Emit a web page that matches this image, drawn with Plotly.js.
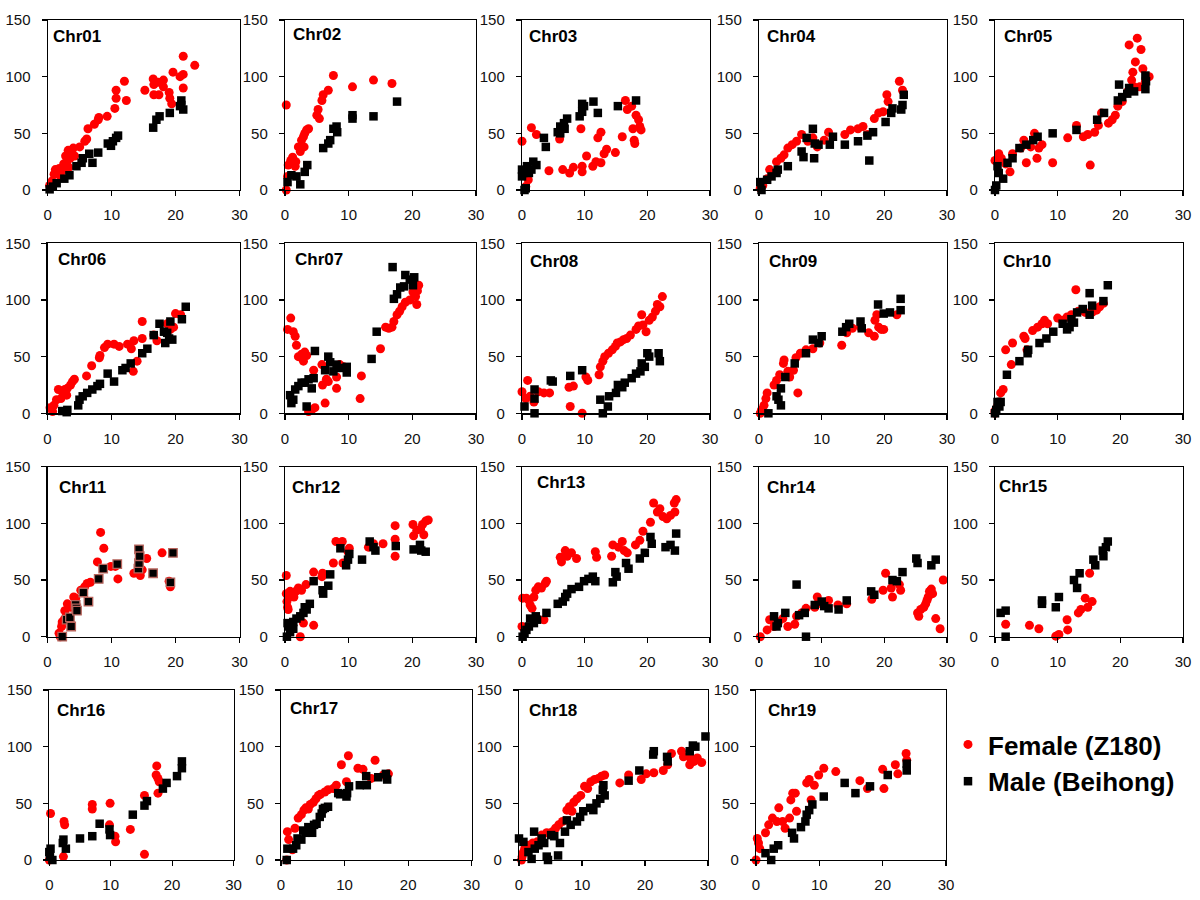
<!DOCTYPE html>
<html>
<head>
<meta charset="utf-8">
<script src="https://cdn.plot.ly/plotly-3.0.1.min.js"></script>
<style>html,body{margin:0;padding:0;background:#fff;}#chart{width:1200px;height:900px;}</style>
</head>
<body>
<div id="chart"></div>
<script>
// ---------- DATA ([x, y] pairs) ----------
const panelNames = ["Chr01","Chr02","Chr03","Chr04","Chr05","Chr06","Chr07","Chr08","Chr09","Chr10",
                    "Chr11","Chr12","Chr13","Chr14","Chr15","Chr16","Chr17","Chr18","Chr19"];
const seriesNames = ["Female (Z180)", "Male (Beihong)"];
const xTicks = [0, 10, 20, 30];
const yTicks = [0, 50, 100, 150];

const chr01_female = [[0.3,4],[0.7,8],[1.0,14],[1.2,18],[1.5,15],[1.8,19],[2.0,12],[2.3,17],[2.5,23],[2.6,22],[2.8,30],[3.0,25],[3.2,35],[3.3,20],[3.5,28],[3.7,33],[4.0,37],[4.2,30],[5.0,38],[5.8,43],[6.1,45],[6.3,54],[7.3,58],[7.9,62],[8.0,64],[9.3,65],[10.5,72],[10.7,81],[10.7,88],[12.0,96],[12.3,79],[15.2,88],[16.5,98],[16.6,93],[16.6,84],[17.3,95],[17.4,84],[18.1,97],[18.1,91],[19.0,86],[19.1,81],[19.4,76],[19.6,104],[20.7,100],[21.2,118],[21.2,102],[21.2,90],[23.0,110]];
const chr01_male = [[0.3,0.6],[0.8,3],[1.4,6],[2.6,10],[3.4,13],[4.5,21],[5.3,24],[5.5,28],[6.5,32],[7.0,24],[7.9,33],[9.4,41],[9.9,39],[10.2,43],[10.7,46],[11.0,48],[16.5,55],[17.0,62],[17.5,65],[19.1,68],[20.7,74],[20.9,79],[20.9,75],[21.2,71]];
const chr02_female = [[0.2,0],[0.2,75],[0.4,12],[0.5,22],[0.9,26],[1.2,29],[1.6,21],[1.7,25],[2.1,38],[2.4,34],[2.6,44],[2.9,47],[3.0,38],[3.1,50],[3.4,53],[3.7,54],[5.0,66],[5.2,71],[5.4,63],[5.8,79],[6.0,84],[6.8,88],[7.6,101],[10.6,91],[13.9,97],[16.8,94]];
const chr02_male = [[0.4,7],[1.0,13],[1.8,12],[2.4,5],[3.1,16],[3.5,22],[6.0,37],[6.8,41],[7.1,44],[7.6,54],[8.1,56],[8.2,51],[10.6,66],[10.6,63],[13.9,65],[17.6,78]];
const chr03_female = [[0.0,43],[0.6,3],[1.0,9],[1.5,55],[2.3,49],[4.3,17],[6.0,45],[6.5,18],[7.6,15],[8.2,20],[9.4,54],[9.6,16],[9.6,21],[10.3,30],[11.3,21],[11.8,25],[12.1,46],[12.6,51],[12.6,24],[13.1,32],[13.5,36],[14.9,33],[16.0,47],[16.5,79],[16.8,71],[17.5,74],[17.7,54],[17.9,44],[18.0,41],[18.2,66],[18.6,62],[18.8,56],[19.0,53]];
const chr03_male = [[0.0,18],[0.0,12],[0.2,15],[0.4,0],[0.6,1.5],[0.8,21],[1.1,15],[1.5,18],[1.8,25],[2.3,22],[3.5,46],[3.8,38],[5.7,51],[6.1,56],[6.1,50],[6.7,59],[6.8,54],[7.2,63],[9.2,65],[9.6,69],[9.6,76],[9.9,74],[11.4,78],[12.1,68],[15.3,74],[18.2,79]];
const chr04_female = [[0.2,1.5],[0.6,4],[1.3,10],[1.7,18],[2.8,25],[3.5,28],[4.0,31],[4.6,37],[5.3,40],[6.0,43],[6.8,49],[7.8,43],[8.6,46],[9.3,38],[10.4,44],[11.1,51],[13.7,49],[14.6,53],[15.8,54],[16.6,56],[17.3,49],[18.4,63],[19.1,68],[19.8,69],[20.4,84],[20.6,78],[22.4,96],[22.9,88]];
const chr04_male = [[0.2,7],[0.4,0],[1.3,9],[2.0,12],[2.8,15],[3.0,18],[4.6,21],[6.8,34],[7.1,29],[7.6,46],[8.6,54],[8.8,28],[8.9,41],[9.5,40],[11.3,40],[11.8,47],[13.7,40],[15.8,43],[17.3,48],[17.6,26],[18.2,51],[20.2,60],[21.1,68],[21.3,72],[22.7,71],[22.9,75],[23.1,84]];
const chr05_female = [[0,26],[0.6,32],[1.0,28],[1.7,23],[2.4,16],[2.8,32],[4.1,37],[4.6,44],[5.0,24],[5.7,38],[6.3,50],[6.7,28],[7.0,37],[7.5,40],[9.2,24],[11.6,46],[13.0,57],[14.1,47],[14.8,49],[15.2,22],[15.9,51],[16.5,57],[17.0,68],[18.1,59],[18.7,62],[19.2,66],[19.6,74],[20.3,78],[21.2,87],[21.4,128],[21.8,97],[22.0,104],[22.2,91],[22.4,113],[22.7,134],[23.1,91],[23.3,124],[23.6,107],[24.0,96],[24.6,100]];
const chr05_male = [[0,0],[0.2,4],[0.4,21],[0.6,15],[1.3,10],[2.0,24],[2.8,28],[3.9,37],[5.0,40],[6.1,44],[6.8,47],[9.2,50],[13.0,53],[16.3,62],[17.4,68],[19.6,79],[19.8,93],[20.3,82],[21.1,85],[21.4,90],[22.2,87],[24.0,101],[24.1,96],[24.0,89]];
const chr06_female = [[0.4,5],[0.8,1.5],[1.0,7],[1.4,12],[1.7,21],[2.1,13],[2.3,19],[2.7,21],[3.0,16],[3.1,22],[3.6,25],[3.9,28],[4.2,30],[6.1,33],[6.9,42],[8.1,49],[8.2,51],[8.9,58],[9.4,61],[10.4,61],[11.2,59],[12.5,61],[13.1,57],[13.5,64],[13.4,37],[14.0,46],[14.8,81],[14.8,66],[16.6,69],[17.1,64],[18.7,79],[19.2,74],[19.7,76],[20.0,88],[20.8,87]];
const chr06_male = [[2.3,2],[3.0,1],[3.1,3],[4.8,7],[5.0,12],[5.5,15],[6.2,18],[7.0,21],[7.8,24],[8.2,26],[9.4,35],[10.4,28],[11.7,38],[12.2,40],[13.0,44],[14.8,53],[15.6,57],[16.6,69],[17.5,79],[18.2,72],[18.4,62],[18.7,71],[19.0,66],[19.2,81],[19.5,65],[21.0,83],[21.6,94]];
const chr07_female = [[0.4,74],[0.9,84],[1.3,72],[1.6,68],[1.8,60],[2.1,50],[2.6,52],[2.9,46],[3.1,54],[3.4,51],[3.7,1.5],[4.2,3],[4.5,38],[4.7,5],[5.8,43],[5.9,25],[6.3,9],[6.5,30],[6.8,28],[8.1,22],[8.1,32],[8.6,43],[9.2,41],[11.8,13],[12.0,33],[15.0,57],[15.8,76],[16.3,75],[16.8,76],[17.1,81],[17.6,87],[18.0,90],[18.4,94],[18.9,98],[19.6,100],[20.1,107],[20.5,103],[20.7,96],[20.8,108],[21.0,113]];
const chr07_male = [[0.8,16],[1.0,9],[1.3,12],[1.6,21],[2.1,24],[2.6,27],[3.1,27],[3.4,6],[3.7,30],[4.2,22],[4.5,31],[4.7,55],[6.3,38],[6.8,50],[7.1,45],[7.6,37],[8.1,43],[8.6,40],[9.7,41],[9.7,36],[13.6,48],[14.4,72],[16.9,129],[17.1,101],[17.6,105],[18.1,111],[18.7,112],[18.9,122],[19.6,118],[20.1,113],[20.3,120]];
const chr08_female = [[0,19],[0.6,13],[0.9,29],[1.3,15],[1.9,10],[2.6,19],[3.5,18],[4.4,18],[7.5,23],[7.7,6],[8.2,24],[9.6,0],[10.2,32],[10.5,29],[12.3,34],[12.5,41],[12.9,46],[13.2,50],[13.8,53],[14.4,56],[14.9,59],[15.2,62],[15.7,63],[16.2,65],[16.7,66],[17.3,69],[18.2,74],[18.6,77],[19.1,87],[19.3,78],[19.8,72],[20.3,82],[20.8,85],[21.3,90],[21.6,96],[22.0,94],[22.4,103]];
const chr08_male = [[0.4,6],[2.0,13],[2.0,21],[2.0,0],[4.6,29],[4.9,28],[7.7,33],[9.6,38],[12.5,12],[12.9,0],[13.7,6],[13.9,15],[15.0,18],[15.3,25],[16.0,23],[16.4,27],[17.5,31],[18.2,35],[18.9,37],[19.1,44],[19.6,41],[20.0,53],[20.3,50],[21.8,53],[22.0,46]];
const chr09_female = [[0.2,0],[0.4,3],[0.8,7],[1.1,13],[1.3,18],[2.4,25],[2.8,29],[3.3,34],[3.9,44],[4.0,47],[4.6,37],[4.9,32],[5.5,38],[5.9,49],[6.2,18],[6.6,53],[7.5,56],[8.6,57],[9.7,62],[13.2,60],[14.0,71],[14.9,75],[16.2,76],[17.5,71],[18.4,68],[18.5,82],[18.8,87],[19.1,76],[19.5,74],[19.9,74],[22.0,87]];
const chr09_male = [[1.5,0],[2.8,15],[3.1,12],[3.5,7],[3.5,22],[4.2,32],[5.7,44],[7.5,53],[8.6,65],[9.5,62],[10.0,68],[13.3,72],[13.9,76],[14.4,79],[16.2,81],[16.4,75],[19.0,96],[19.9,88],[20.9,89],[22.6,101],[22.6,91]];
const chr10_female = [[0,0],[0,2],[0.4,6],[0.7,10],[0.9,18],[1.3,21],[1.7,56],[2.6,43],[2.8,62],[4.6,68],[4.8,66],[5.1,56],[6.0,73],[6.8,76],[7.5,79],[7.9,82],[8.4,79],[10.0,84],[10.7,82],[11.5,85],[12.2,87],[12.9,109],[13.3,90],[14.4,89],[15.5,89],[16.2,91],[16.7,94],[17.3,97]];
const chr10_male = [[0,0],[0.2,3],[0.4,10],[0.7,6],[0.9,10],[1.9,34],[3.9,46],[5.2,53],[5.3,56],[7.1,62],[8.2,66],[9.3,72],[10.8,79],[11.5,74],[11.9,76],[12.2,83],[12.6,80],[13.1,89],[14.0,92],[15.1,106],[15.1,87],[15.5,95],[17.3,99],[18.0,113]];
const chr11_female = [[1.8,3],[2.0,0],[2.2,9],[2.3,13],[2.6,15],[2.7,23],[2.9,18],[3.1,29],[3.6,26],[4.1,35],[4.4,34],[5.2,41],[5.8,44],[6.2,47],[6.7,48],[7.8,66],[8.3,92],[8.8,78],[9.9,62],[10.6,62],[11.0,51],[13.5,56],[14.5,54],[14.8,59],[15.5,69],[17.9,74],[19.0,49],[19.2,44]];
const chr11_male = [[2.3,0],[3.0,15],[3.5,17],[3.7,9],[4.4,28],[4.5,25],[4.6,23],[5.6,39],[6.4,31],[8.0,51],[8.7,60],[10.9,64],[14.2,60],[14.3,65],[14.3,77],[14.4,71],[16.5,56],[19.2,48],[19.6,74]];
const chr12_female = [[0.2,54],[0.2,38],[0.3,31],[0.4,26],[0.5,24],[0.5,35],[0.8,40],[1.0,38],[1.4,35],[1.7,40],[2.1,43],[2.4,0],[2.6,41],[2.9,12],[3.3,46],[4.5,10],[4.5,57],[5.8,53],[5.9,56],[7.6,65],[8.0,84],[9.0,84],[9.1,65],[9.9,75],[10.1,78],[13.1,79],[13.9,82],[15.4,82],[17.3,98],[17.3,86],[17.3,71],[20.1,99],[20.2,89],[20.7,94],[21.3,95],[21.6,99],[21.8,90],[22.1,102],[22.5,103]];
const chr12_male = [[0.3,0],[0.4,12],[0.5,9],[0.8,4],[1.3,7],[1.3,13],[1.8,16],[2.4,18],[2.9,21],[3.1,26],[3.4,24],[3.9,29],[4.5,49],[5.9,41],[6.0,38],[6.8,45],[7.1,55],[8.7,78],[9.6,63],[9.9,68],[10.1,73],[12.1,68],[13.3,84],[13.9,79],[14.2,76],[17.4,80],[20.2,77],[21.2,81],[21.4,76],[22.1,75]];
const chr13_female = [[0,9],[0.1,34],[0.7,34],[1.1,32],[1.3,28],[1.6,25],[1.9,35],[2.2,41],[2.6,44],[3.1,43],[3.5,15],[3.7,47],[3.9,49],[6.1,70],[6.3,66],[6.9,76],[7.2,71],[7.9,74],[8.7,69],[11.7,75],[11.9,70],[14.3,71],[14.5,81],[15.4,79],[16.0,84],[16.3,76],[16.8,74],[18.1,81],[18.8,85],[19.3,93],[20.5,101],[21.0,118],[21.6,110],[22.0,113],[22.5,106],[23.1,104],[23.7,107],[24.3,118],[24.4,110],[24.6,121]];
const chr13_male = [[0.1,0],[0.4,3],[0.7,6],[1.1,9],[1.3,16],[1.9,12],[2.2,18],[2.4,15],[3.9,21],[5.7,29],[6.5,31],[6.9,35],[7.2,38],[7.9,42],[9.1,44],[9.9,49],[10.6,51],[11.3,53],[11.7,49],[14.5,48],[14.9,57],[15.1,53],[16.6,65],[17.0,60],[18.8,69],[19.6,74],[20.5,88],[20.7,82],[22.9,79],[23.7,81],[24.4,76],[24.6,91]];
const chr14_female = [[0.2,0],[1.3,6],[1.7,15],[2.4,9],[3.1,13],[3.8,16],[4.6,9],[5.7,11],[6.0,18],[6.8,21],[7.5,25],[8.9,26],[9.3,35],[10.0,29],[11.1,32],[12.6,28],[14.0,29],[18.0,33],[19.8,41],[20.2,56],[21.1,43],[21.3,35],[22.4,46],[22.6,41],[25.3,21],[25.5,18],[25.8,24],[26.3,26],[26.6,29],[26.8,32],[27.0,35],[27.2,40],[27.5,42],[27.7,38],[28.2,16],[28.9,7],[29.4,50]];
const chr14_male = [[2.4,18],[2.8,9],[3.0,12],[4.2,21],[6.0,46],[6.4,19],[7.3,21],[7.5,0],[8.9,28],[10.0,31],[10.4,27],[11.1,25],[12.7,24],[14.0,32],[17.9,40],[18.4,37],[21.3,50],[22.0,49],[22.9,57],[25.1,69],[25.3,65],[27.5,63],[28.2,68]];
const chr15_female = [[1.7,11],[5.5,10],[7.0,7],[9.7,0.5],[10.2,2],[11.5,15],[11.6,6],[13.3,21],[13.7,24],[14.4,34],[14.8,26],[15.1,56],[15.5,31]];
const chr15_male = [[0.9,21],[1.7,23],[1.7,0],[7.5,29],[7.5,32],[9.7,26],[10.2,35],[12.6,50],[13.1,43],[13.5,56],[15.7,68],[16.0,63],[17.2,76],[17.3,71],[17.7,79],[18.0,84]];
const chr16_female = [[0,0],[0.2,41],[2.3,3],[2.4,34],[2.5,31],[7.0,49],[7.0,45],[9.9,50],[9.8,31],[10.7,21],[10.8,16],[13.2,27],[15.5,57],[15.5,5],[17.4,75],[17.5,83],[17.7,72],[17.9,69],[17.7,59]];
const chr16_male = [[0,7],[0.1,3],[0.2,10],[0.5,0],[2.2,15],[2.3,18],[2.7,10],[5.0,19],[7.0,21],[8.2,32],[9.8,27],[9.9,22],[13.6,40],[15.5,48],[15.9,52],[18.5,63],[19.1,68],[20.8,74],[21.6,87],[21.6,81]];
const chr17_female = [[0.9,0],[1.0,25],[1.2,18],[1.8,9],[2.2,28],[2.7,37],[3.2,40],[3.6,44],[3.9,46],[4.3,45],[4.6,49],[5.1,51],[5.5,54],[5.9,57],[6.2,58],[6.9,60],[7.4,62],[8.2,63],[8.7,66],[9.5,84],[10.3,69],[10.6,92],[12.1,81],[12.9,80],[14.2,72],[14.8,88],[16.1,75],[16.9,76]];
const chr17_male = [[0.9,0],[1.0,10],[1.9,10],[2.4,13],[2.6,19],[3.2,18],[3.5,26],[3.9,24],[4.3,29],[4.8,27],[4.9,24],[5.2,31],[5.6,32],[6.1,38],[6.4,41],[6.6,45],[6.9,46],[7.4,47],[9.0,59],[9.3,58],[10.3,56],[10.4,59],[10.7,65],[12.4,66],[13.5,66],[13.4,74],[15.3,73],[16.5,76],[16.7,71]];
const chr18_female = [[0.4,0],[0.5,3],[0.7,7],[0.9,10],[1.5,13],[2.2,15],[2.9,16],[3.6,22],[4.4,24],[5.3,25],[5.8,28],[6.3,31],[6.9,34],[7.6,44],[8.0,47],[8.4,43],[8.7,51],[9.2,54],[9.8,57],[10.4,65],[10.9,63],[11.4,69],[12.0,71],[12.6,72],[13.1,74],[13.6,75],[16.0,68],[17.4,75],[19.4,71],[20.2,76],[21.4,77],[22.9,79],[23.6,84],[24.2,94],[25.8,96],[26.1,91],[27.1,84],[27.2,90],[27.8,87],[28.3,90],[29.0,86]];
const chr18_male = [[0,19],[0.7,16],[1.5,7],[2.0,1],[2.4,25],[2.5,10],[3.1,13],[3.6,19],[4.0,15],[4.4,3],[4.6,0],[5.1,22],[5.6,21],[6.2,4],[6.5,15],[7.3,25],[7.6,35],[8.2,31],[9.2,34],[9.7,38],[10.2,43],[11.3,46],[11.8,44],[12.3,50],[12.9,54],[13.3,62],[13.4,66],[13.6,57],[17.4,70],[19.1,79],[21.3,93],[21.4,96],[23.5,91],[23.6,87],[27.1,96],[27.6,101],[28.0,100],[29.6,109]];
const chr19_female = [[0,0],[0.2,19],[0.4,15],[0.6,10],[1.5,24],[2.0,31],[2.6,37],[3.3,34],[3.6,46],[4.2,34],[4.6,28],[5.3,37],[5.5,53],[5.8,59],[6.2,59],[6.4,43],[8.0,68],[8.4,71],[8.7,53],[9.2,66],[9.9,75],[10.7,81],[12.6,78],[16.4,70],[17.6,63],[20.0,80],[20.2,63],[22.0,84],[22.4,76],[23.7,94],[23.8,88]];
const chr19_male = [[1.5,6],[2.4,0],[2.8,10],[3.5,13],[5.7,24],[6.0,19],[7.1,29],[7.8,34],[8.0,40],[8.4,44],[8.9,49],[10.7,56],[14.0,68],[15.7,59],[18.0,65],[20.8,75],[23.8,85],[23.8,79]];

const femaleData = [chr01_female,chr02_female,chr03_female,chr04_female,chr05_female,chr06_female,chr07_female,chr08_female,chr09_female,chr10_female,chr11_female,chr12_female,chr13_female,chr14_female,chr15_female,chr16_female,chr17_female,chr18_female,chr19_female];
const maleData = [chr01_male,chr02_male,chr03_male,chr04_male,chr05_male,chr06_male,chr07_male,chr08_male,chr09_male,chr10_male,chr11_male,chr12_male,chr13_male,chr14_male,chr15_male,chr16_male,chr17_male,chr18_male,chr19_male];

// ---------- LAYOUT GEOMETRY (pixels) ----------
const W = 1200, H = 900;
const rowsPx = [[20,190],[243.3,413.3],[466.7,636.7],[690,860]];
const colsPx = [
  [[47.7,239.5],[285,476],[522,710],[759,947],[995,1183]],
  [[47.5,239.5],[285,476],[522,710],[759,947],[995,1183]],
  [[47.5,239.5],[285,476],[522,710],[759,947],[995,1183]],
  [[49.3,233.5],[281,471.7],[519,708],[756,946]]
];
const labelOffset = [3,6,5,6,7, 8,8,6,8,6, 9,5,13,6,2, 6,7,8,10];
const labelDy = [16,14,17,17,17, 16,16,18,18,18, 21,21,16,21,20, 20,18,20,20];

const fontFam = "Liberation Sans, Arial, sans-serif";
const traces = [];
const layout = {
  width: W, height: H,
  margin: {l:0, r:0, t:0, b:0},
  paper_bgcolor: "#fff", plot_bgcolor: "#fff",
  showlegend: true,
  legend: {
    x: 948/W, y: 1 - 721/H, xanchor: "left", yanchor: "top",
    font: {family: fontFam, size: 26, color: "#000", weight: "bold"},
    bgcolor: "rgba(0,0,0,0)", tracegroupgap: 0, itemclick: false
  },
  annotations: [],
  font: {family: fontFam}
};

panelNames.forEach((name, i) => {
  const r = Math.floor(i / 5), c = i % 5;
  const [x0, x1] = colsPx[r][c];
  const [yt, yb] = rowsPx[r];
  const xa = i === 0 ? "xaxis" : "xaxis" + (i + 1);
  const ya = i === 0 ? "yaxis" : "yaxis" + (i + 1);
  const xid = i === 0 ? "x" : "x" + (i + 1);
  const yid = i === 0 ? "y" : "y" + (i + 1);
  const common = {
    showgrid: false, zeroline: false, showline: true, mirror: true,
    linecolor: "#000", linewidth: 1.2, ticks: "outside", ticklen: 5,
    tickcolor: "#000", tickwidth: 1.2,
    tickfont: {family: fontFam, size: 15, color: "#111"},
    fixedrange: true
  };
  layout[xa] = Object.assign({}, common, {
    domain: [x0 / W, x1 / W], range: [0, 30], tickmode: "array",
    tickvals: xTicks, ticktext: xTicks.map(String), anchor: yid,
    ticklabelstandoff: 6
  });
  layout[ya] = Object.assign({}, common, {
    domain: [1 - yb / H, 1 - yt / H], range: [0, 150], tickmode: "array",
    tickvals: yTicks, ticktext: yTicks.map(String), anchor: xid,
    ticklabelstandoff: 8
  });
  const f = femaleData[i], m = maleData[i];
  traces.push({
    type: "scatter", mode: "markers", xaxis: xid, yaxis: yid,
    x: f.map(p => p[0]), y: f.map(p => p[1]),
    name: seriesNames[0], showlegend: i === 0, cliponaxis: false,
    marker: {symbol: "circle", size: 9, color: "#ff0000", line: {width: 0}},
    hoverinfo: "x+y"
  });
  traces.push({
    type: "scatter", mode: "markers", xaxis: xid, yaxis: yid,
    x: m.map(p => p[0]), y: m.map(p => p[1]),
    name: seriesNames[1], showlegend: i === 0, cliponaxis: false,
    marker: {symbol: "square", size: 8.5, color: "#000000",
             line: i === 10 ? {width: 1.3, color: "#b8645c"} : {width: 0}},
    hoverinfo: "x+y"
  });
  layout.annotations.push({
    xref: "paper", yref: "paper",
    x: (x0 + labelOffset[i]) / W, y: 1 - (yt + labelDy[i]) / H,
    xanchor: "left", yanchor: "middle", showarrow: false,
    text: "<b>" + name + "</b>",
    font: {family: fontFam, size: 17, color: "#000"}
  });
});

Plotly.newPlot("chart", traces, layout, {staticPlot: true, displayModeBar: false});
</script>
</body>
</html>
